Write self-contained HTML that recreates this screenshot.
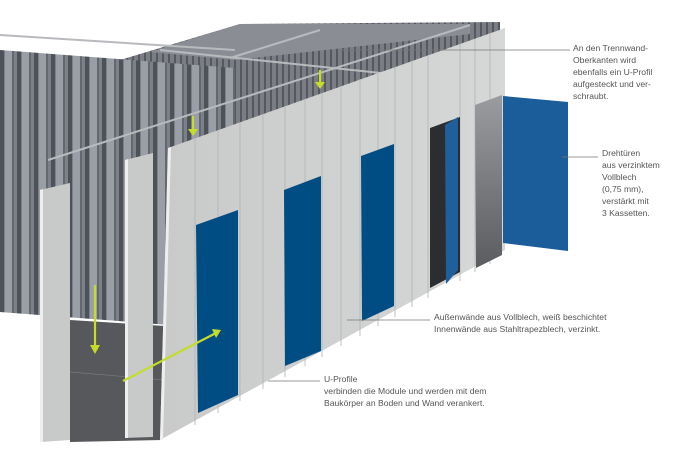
<!DOCTYPE html>
<html><head><style>
html,body{margin:0;padding:0;background:#fff;}
svg{display:block;}
text{font-family:"Liberation Sans",sans-serif;font-size:8.6px;fill:#555;}
</style></head><body>
<svg width="700" height="466" viewBox="0 0 700 466" xmlns="http://www.w3.org/2000/svg">
<defs>
<pattern id="trap" width="17" height="10" patternUnits="userSpaceOnUse">
<rect width="17" height="10" fill="#7c8088"/>
<rect x="0" width="4" height="10" fill="#4d5158"/>
<rect x="5" width="7" height="10" fill="#9a9ea6"/>
<rect x="12" width="2" height="10" fill="#63676e"/>
</pattern>
<pattern id="trap2" width="6" height="6" patternUnits="userSpaceOnUse">
<rect width="6" height="6" fill="#7a7e84"/>
<rect width="2" height="6" fill="#55585e"/>
</pattern>
<linearGradient id="wall" x1="0" y1="0" x2="1" y2="0">
<stop offset="0" stop-color="#c9caca"/><stop offset="1" stop-color="#d6d7d7"/>
</linearGradient>
<linearGradient id="open" x1="0" y1="0" x2="0" y2="1">
<stop offset="0" stop-color="#9a9c9f"/><stop offset="1" stop-color="#5a5c60"/>
</linearGradient>
</defs>
<!-- back ceiling area -->
<polygon points="120,60 240,24 500,22 500,60 235,140" fill="url(#trap2)"/>
<polygon points="150,52 240,24 470,24 470,34 235,60" fill="#8a8e94"/>
<!-- back wall left -->
<polygon points="0,50 235,68 235,330 0,312" fill="url(#trap)"/>
<!-- floor -->
<polygon points="70,320 165,326 162,440 70,442" fill="#56585c"/>
<line x1="70" y1="372" x2="165" y2="380" stroke="#777" stroke-width="0.8"/>
<!-- rods -->
<g stroke="#b8babd" stroke-width="2" fill="none">
<line x1="0" y1="35" x2="235" y2="50"/>
<line x1="48" y1="160" x2="470" y2="25"/>
<line x1="160" y1="50" x2="400" y2="75"/>
<line x1="230" y1="58" x2="320" y2="30"/>
</g>
<!-- left panels -->
<polygon points="40,190 70,183 70,440 40,442" fill="#c8c9c9"/>
<polygon points="40,190 43,189 43,442 40,442" fill="#eee"/>
<polygon points="125,160 153,153 153,437 125,438" fill="#c8c9c9"/>
<polygon points="125,160 128,159 128,438 125,438" fill="#eee"/>
<!-- front wall -->
<polygon points="168,148 505,28 505,250 160,440" fill="url(#wall)"/>
<polygon points="168,148 171,147 163,440 160,440" fill="#eee"/>
<g stroke="#b2b3b4" stroke-width="0.8">
<line x1="195" y1="138" x2="195" y2="425"/>
<line x1="218" y1="130" x2="218" y2="413"/>
<line x1="240" y1="122" x2="240" y2="401"/>
<line x1="263" y1="114" x2="263" y2="389"/>
<line x1="285" y1="106" x2="285" y2="377"/>
<line x1="305" y1="99" x2="305" y2="366"/>
<line x1="322" y1="93" x2="322" y2="357"/>
<line x1="341" y1="86" x2="341" y2="346"/>
<line x1="360" y1="79" x2="360" y2="336"/>
<line x1="378" y1="73" x2="378" y2="326"/>
<line x1="395" y1="67" x2="395" y2="317"/>
<line x1="412" y1="61" x2="412" y2="307"/>
<line x1="428" y1="55" x2="428" y2="298"/>
<line x1="460" y1="44" x2="460" y2="281"/>
<line x1="475" y1="39" x2="475" y2="272"/>
<line x1="490" y1="33" x2="490" y2="264"/>
</g>
<!-- doors -->
<polygon points="196,225 238,210 238,395 198,413" fill="#004d84"/>
<polygon points="284,190 321,176 321,351 285,366" fill="#004d84"/>
<polygon points="361,156 394,144 394,306 362,321" fill="#004d84"/>
<polygon points="430,128 460,117 460,272 430,288" fill="#2b2d31"/>
<polygon points="445,125 458,117 458,270 446,284" fill="#1f5f9c"/>
<polygon points="475,105 502,95 502,255 476,268" fill="url(#open)"/>
<polygon points="503,96 568,102 568,251 503,243" fill="#1b5c9a"/>
<!-- green arrows -->
<g stroke="#c6dc2a" stroke-width="2.2" fill="#c6dc2a">
<line x1="95" y1="285" x2="95" y2="348"/>
<polygon points="90,345 100,345 95,354" stroke="none"/>
<line x1="123" y1="381" x2="216" y2="333"/>
<polygon points="212,329 221,330 216,338" stroke="none"/>
<line x1="193" y1="116" x2="193" y2="131"/>
<polygon points="188,129 198,129 193,136" stroke="none"/>
<line x1="320" y1="70" x2="320" y2="84"/>
<polygon points="315,82 325,82 320,89" stroke="none"/>
</g>
<!-- leader lines -->
<g stroke="#777" stroke-width="0.8">
<line x1="340" y1="50" x2="570" y2="50"/>
<line x1="562" y1="157" x2="598" y2="157"/>
<line x1="347" y1="320" x2="430" y2="320"/>
<line x1="268" y1="381" x2="320" y2="381"/>
</g>
<text x="573" y="51">An den Trennwand-</text>
<text x="573" y="63">Oberkanten wird</text>
<text x="573" y="75">ebenfalls ein U-Profil</text>
<text x="573" y="87">aufgesteckt und ver-</text>
<text x="573" y="99">schraubt.</text>
<text x="602" y="156">Drehtüren</text>
<text x="602" y="168">aus verzinktem</text>
<text x="602" y="180">Vollblech</text>
<text x="602" y="192">(0,75 mm),</text>
<text x="602" y="204">verstärkt mit</text>
<text x="602" y="216">3 Kassetten.</text>
<text x="434" y="320">Außenwände aus Vollblech, weiß beschichtet</text>
<text x="434" y="332">Innenwände aus Stahltrapezblech, verzinkt.</text>
<text x="324" y="382">U-Profile</text>
<text x="324" y="394">verbinden die Module und werden mit dem</text>
<text x="324" y="406">Baukörper an Boden und Wand verankert.</text>
</svg>
</body></html>
